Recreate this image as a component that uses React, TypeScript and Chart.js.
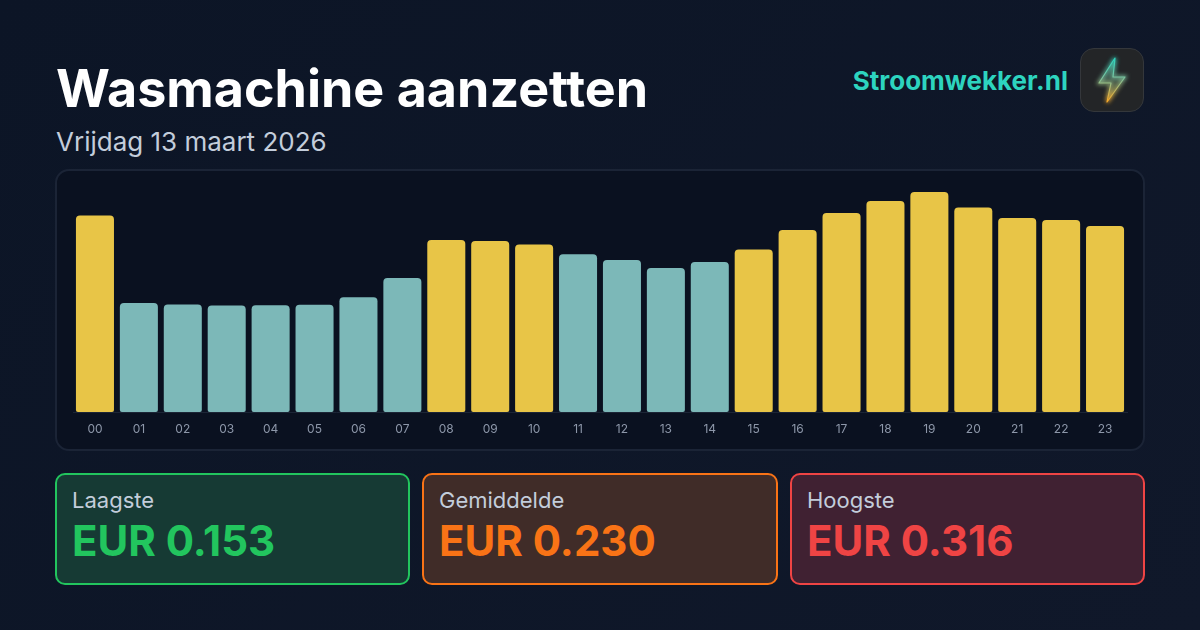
import React, { useEffect, useRef } from "react";
import { Chart, registerables } from "chart.js";

Chart.register(...registerables);

const hours = ["00","01","02","03","04","05","06","07","08","09","10","11","12","13","14","15","16","17","18","19","20","21","22","23"];
const prices = [0.2822,0.1566,0.1545,0.153,0.1532,0.154,0.165,0.1925,0.247,0.2457,0.2407,0.2268,0.2184,0.2069,0.2155,0.2335,0.2615,0.286,0.3032,0.316,0.2938,0.2787,0.2759,0.2672];
const average = 0.23;
const title = "Wasmachine aanzetten";
const subtitle = "Vrijdag 13 maart 2026";
const brand = "Stroomwekker.nl";
const cardLabels = ["Laagste", "Gemiddelde", "Hoogste"];
const cardValues = ["EUR 0.153", "EUR 0.230", "EUR 0.316"];
const cardColors = ["#22c55e", "#f97316", "#ef4444"];
const cardFills = ["#163a34", "#402c28", "#402132"];
const cardLefts = [55, 422, 790];
const font = "Inter, sans-serif";

export default function App() {
  const ref = useRef<HTMLCanvasElement>(null);
  useEffect(() => {
    document.body.style.margin = "0";
    const chart = new Chart(ref.current!, {
      type: "bar",
      data: {
        labels: hours,
        datasets: [{
          data: prices,
          backgroundColor: prices.map((p) => (p > average ? "#e8c547" : "#7cb8b8")),
          borderWidth: 0,
          borderSkipped: false,
          borderRadius: { topLeft: 4, topRight: 4, bottomLeft: 2, bottomRight: 2 },
          barPercentage: 0.866,
          categoryPercentage: 1,
        }],
      },
      options: {
        responsive: false,
        animation: false,
        layout: { padding: { left: 17, right: 17, top: 10, bottom: 0 } },
        plugins: { legend: { display: false }, tooltip: { enabled: false } },
        scales: {
          y: { display: false, min: 0, max: 0.3333 },
          x: {
            afterFit: (s: any) => { s.height = 38; },
            grid: { display: false, drawTicks: false },
            border: { display: true, color: "#1c2536", width: 1 },
            ticks: { color: "#8d97a9", font: { family: font, size: 12 }, padding: 10, maxRotation: 0, autoSkip: false },
          },
        },
      },
    });
    return () => chart.destroy();
  }, []);

  return (
    <div style={{ position: "relative", width: 1200, height: 630, overflow: "hidden", background: "#0f172a", backgroundImage: "linear-gradient(135deg,#0c1526 0%,#10182a 100%)", fontFamily: font }}>
      <div style={{ position: "absolute", left: 56, top: 57, fontSize: 52, lineHeight: "64px", fontWeight: 700, color: "#ffffff", whiteSpace: "nowrap" }}>{title}</div>
      <div style={{ position: "absolute", left: 56, top: 125, fontSize: 26, lineHeight: "34px", color: "#c3cddb", whiteSpace: "nowrap" }}>{subtitle}</div>
      <div style={{ position: "absolute", right: 132, top: 64, fontSize: 26, lineHeight: "34px", fontWeight: 700, color: "#2dd4bf", whiteSpace: "nowrap" }}>{brand}</div>
      <div style={{ position: "absolute", left: 1080, top: 48, width: 64, height: 64, boxSizing: "border-box", borderRadius: 14, background: "#232527", border: "1px solid #34373b" }}>
        <svg width="62" height="62" viewBox="0 0 62 62" style={{ position: "absolute", left: 0, top: 0 }}>
          <defs>
            <linearGradient id="bolt" x1="0" y1="0" x2="0" y2="1">
              <stop offset="0" stopColor="#2dd4bf" />
              <stop offset="0.45" stopColor="#7cc4a0" />
              <stop offset="1" stopColor="#f9a826" />
            </linearGradient>
            <filter id="glow" x="-60%" y="-60%" width="220%" height="220%">
              <feGaussianBlur stdDeviation="2" />
            </filter>
          </defs>
          <path d="M34 9 L18 34 L30 34 L26 53 L44 28 L32 28 Z" fill="none" stroke="url(#bolt)" strokeWidth="3" filter="url(#glow)" opacity="0.9" />
          <path d="M34 9 L18 34 L30 34 L26 53 L44 28 L32 28 Z" fill="url(#bolt)" fillOpacity="0.3" stroke="url(#bolt)" strokeWidth="1.2" strokeLinejoin="round" />
        </svg>
      </div>
      <div style={{ position: "absolute", left: 55, top: 169, width: 1090, height: 282, boxSizing: "border-box", borderRadius: 14, background: "#0a1120", border: "2px solid #1b2436" }} />
      <canvas ref={ref} width={1088} height={280} style={{ position: "absolute", left: 56, top: 170, width: 1088, height: 280 }} />
      {cardLabels.map((label, i) => (
        <div key={label} style={{ position: "absolute", left: cardLefts[i], top: 473, width: i === 1 ? 356 : 355, height: 112, boxSizing: "border-box", borderRadius: 10, background: cardFills[i], border: `2px solid ${cardColors[i]}` }}>
          <div style={{ position: "absolute", left: 15, top: 12, fontSize: 22, lineHeight: "26px", color: "#c3cddb", whiteSpace: "nowrap" }}>{label}</div>
          <div style={{ position: "absolute", left: 15, top: 40, fontSize: 42, lineHeight: "52px", fontWeight: 700, color: cardColors[i], whiteSpace: "nowrap" }}>{cardValues[i]}</div>
        </div>
      ))}
    </div>
  );
}
